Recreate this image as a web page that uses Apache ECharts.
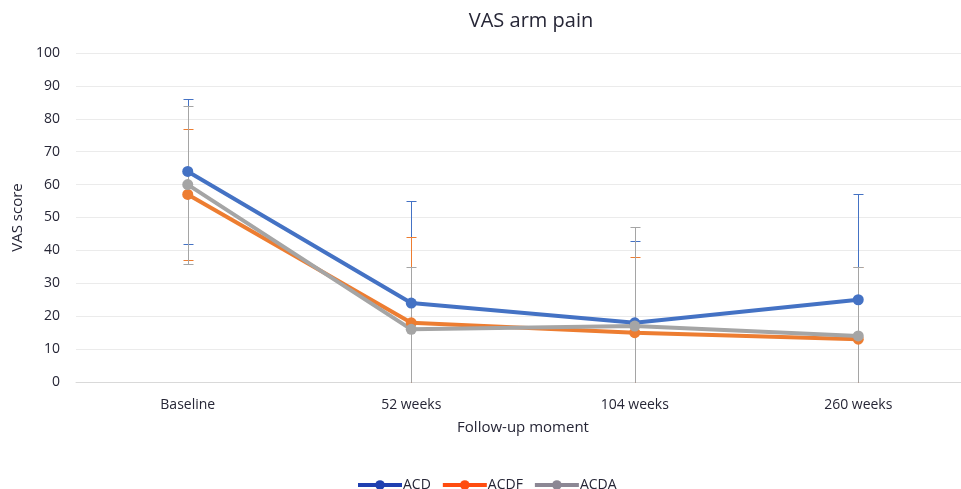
<!DOCTYPE html>
<html><head><meta charset="utf-8">
<script src="https://cdn.jsdelivr.net/npm/echarts@6/dist/echarts.min.js"></script>
<style>html,body{margin:0;padding:0;background:#fff}#c{width:961px;height:489px}</style>
</head><body><div id="c"></div>
<script>
const categories = ['Baseline', '52 weeks', '104 weeks', '260 weeks'];
const seriesNames = ['ACD', 'ACDF', 'ACDA'];
const acd = [64, 24, 18, 25];
const acdf = [57, 18, 15, 13];
const acda = [60, 16, 17, 14];
const acdLow = [42, 0, 0, 0];
const acdHigh = [86, 55, 43, 57];
const acdfLow = [37, 0, 0, 0];
const acdfHigh = [77, 44, 38, 35];
const acdaLow = [36, 0, 0, 0];
const acdaHigh = [84, 35, 47, 35];
const yTicks = [0, 10, 20, 30, 40, 50, 60, 70, 80, 90, 100];

const lineColors = ['#4472C4', '#ED7D31', '#A5A5A5'];
const legendColors = ['#1F3FB0', '#FF4C0F', '#8C8794'];
const font = '"Open Sans", "Noto Sans", sans-serif';

function errSeries(name, low, high, color) {
  return {
    name: name + ' error', type: 'custom', z: 1,
    data: categories.map((c, i) => [i, low[i], high[i]]),
    renderItem: function (params, api) {
      const lo = api.coord([api.value(0), api.value(1)]);
      const hi = api.coord([api.value(0), api.value(2)]);
      const x = Math.round(lo[0]) + 0.5;
      const ylo = Math.round(lo[1]) + 0.5;
      const yhi = Math.round(hi[1]) + 0.5;
      const w = 5;
      const children = [
        { type: 'line', shape: { x1: x, y1: ylo, x2: x, y2: yhi }, style: { stroke: color, lineWidth: 1 } },
        { type: 'line', shape: { x1: x - w, y1: yhi, x2: x + w, y2: yhi }, style: { stroke: color, lineWidth: 1 } }
      ];
      if (api.value(1) > 0) {
        children.push({ type: 'line', shape: { x1: x - w, y1: ylo, x2: x + w, y2: ylo }, style: { stroke: color, lineWidth: 1 } });
      }
      return { type: 'group', children: children };
    },
    tooltip: { show: false }
  };
}
function lineSeries(name, data, color) {
  return {
    name: name, type: 'line', data: data, z: 5,
    symbol: 'circle', symbolSize: 11,
    lineStyle: { color: color, width: 4 },
    itemStyle: { color: color }
  };
}

const chart = echarts.init(document.getElementById('c'));
chart.setOption({
  animation: false,
  title: {
    text: 'VAS arm pain', left: 526, top: 6, textAlign: 'center',
    textStyle: { fontFamily: font, fontSize: 20, fontWeight: 'normal', color: '#262636' }
  },
  legend: {
    top: 473, left: 351, itemWidth: 44, itemHeight: 12, itemGap: 10,
    textStyle: { fontFamily: font, fontSize: 14, color: '#262636', padding: [0, 0, 0, -4] },
    data: seriesNames.map((n, i) => ({
      name: n,
      itemStyle: { color: legendColors[i] },
      lineStyle: { color: legendColors[i], width: 4 }
    }))
  },
  grid: { left: 76, width: 894, top: 53, height: 329, outerBoundsMode: 'none', containLabel: false },
  xAxis: {
    type: 'category', data: categories,
    name: 'Follow-up moment', nameLocation: 'middle', nameGap: 38,
    nameTextStyle: { fontFamily: font, fontSize: 15, color: '#262636' },
    axisLine: { lineStyle: { color: '#D9D9D9', width: 1 } },
    axisTick: { show: false },
    axisLabel: { fontFamily: font, fontSize: 14, color: '#262636', margin: 16 }
  },
  yAxis: {
    type: 'value', min: 0, max: 100, interval: 10,
    name: 'VAS score', nameLocation: 'middle', nameGap: 50,
    nameTextStyle: { fontFamily: font, fontSize: 15, color: '#262636' },
    axisLine: { show: false }, axisTick: { show: false },
    axisLabel: { fontFamily: font, fontSize: 14, color: '#262636', margin: 16 },
    splitLine: { lineStyle: { color: '#EBEBEB', width: 1 } }
  },
  series: [
    errSeries('ACD', acdLow, acdHigh, lineColors[0]),
    errSeries('ACDF', acdfLow, acdfHigh, lineColors[1]),
    errSeries('ACDA', acdaLow, acdaHigh, lineColors[2]),
    lineSeries('ACD', acd, lineColors[0]),
    lineSeries('ACDF', acdf, lineColors[1]),
    lineSeries('ACDA', acda, lineColors[2])
  ]
});
</script></body></html>
